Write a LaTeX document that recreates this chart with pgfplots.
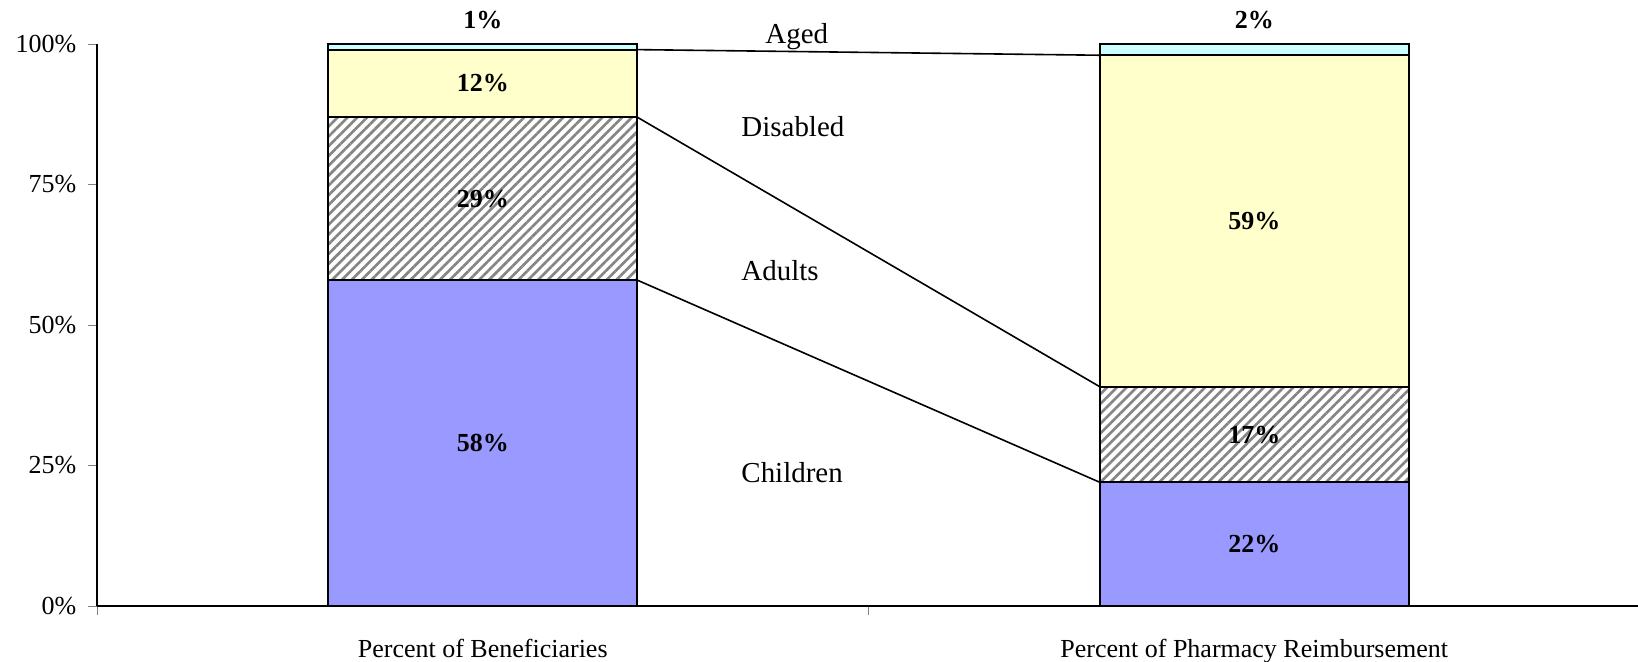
\documentclass[border=0pt]{standalone}
\usepackage{pgfplots}
\pgfplotsset{compat=1.18}
\usepackage{fontspec}
\setmainfont{Liberation Serif}
\usetikzlibrary{patterns.meta,calc}
\definecolor{cChild}{HTML}{9999FF}
\definecolor{cDis}{HTML}{FFFFCC}
\definecolor{cAged}{HTML}{CCFFFF}
\definecolor{cHatch}{HTML}{858585}
\begin{document}
\begin{tikzpicture}
\pgfplotsset{common/.style={
  scale only axis, width=1157.25pt, height=421.5pt,
  xmin=-0.5, xmax=1.5, ymin=0, ymax=100}}
\begin{axis}[common, name=ax,
  ybar stacked, bar width=0.4,
  axis lines*=left, axis line style={black, line width=0.8pt},
  xtick={-0.5,0.5,1.5}, xticklabels={,,},
  extra x ticks={0,1},
  extra x tick labels={Percent of Beneficiaries, Percent of Pharmacy Reimbursement},
  extra x tick style={major tick length=0pt, xticklabel style={yshift=-21pt}},
  ytick={0,25,50,75,100}, yticklabels={0\%,25\%,50\%,75\%,100\%},
  yticklabel style={xshift=-5.5pt},
  tick align=outside, tick style={gray, line width=0.6pt},
  major tick length=6.5pt,
  tick label style={font=\fontsize{19.5}{22}\selectfont},
  clip=false,
]
\addplot[draw=black, line width=1.5pt, fill=cChild] coordinates {(0,58) (1,22)};
\addplot[draw=black, line width=1.5pt, pattern color=cHatch,
  pattern={Lines[angle=45,distance=5.2pt,line width=2pt]}] coordinates {(0,29) (1,17)};
\addplot[draw=black, line width=1.5pt, fill=cDis] coordinates {(0,12) (1,59)};
\addplot[draw=black, line width=1.5pt, fill=cAged] coordinates {(0,1) (1,2)};
\end{axis}
\begin{axis}[common, hide axis, clip=false]
\addplot[black, line width=1.2pt] coordinates {(0.2,58) (0.8,22)};
\addplot[black, line width=1.2pt] coordinates {(0.2,87) (0.8,39)};
\addplot[black, line width=1.2pt] coordinates {(0.2,99) (0.8,98)};
\begin{scope}[every node/.style={font=\fontsize{19.5}{22}\selectfont\bfseries}]
\node at (axis cs:0,29) {58\%};
\node at (axis cs:0,72.5) {29\%};
\node at (axis cs:0,93) {12\%};
\node at (axis cs:0,104.3) {1\%};
\node at (axis cs:1,11) {22\%};
\node at (axis cs:1,30.5) {17\%};
\node at (axis cs:1,68.5) {59\%};
\node at (axis cs:1,104.3) {2\%};
\end{scope}
\begin{scope}[every node/.style={font=\fontsize{21.7}{24}\selectfont, anchor=base west, inner sep=0pt}]
\node at (axis cs:0.366,100) {Aged};
\node at (axis cs:0.335,83.5) {Disabled};
\node at (axis cs:0.335,57.9) {Adults};
\node at (axis cs:0.335,21.9) {Children};
\end{scope}
\end{axis}
\pgfresetboundingbox
\path ($(ax.south west)+(-72.75pt,-41.25pt)$) rectangle ($(ax.north east)+(-1.5pt,33pt)$);
\end{tikzpicture}
\end{document}
